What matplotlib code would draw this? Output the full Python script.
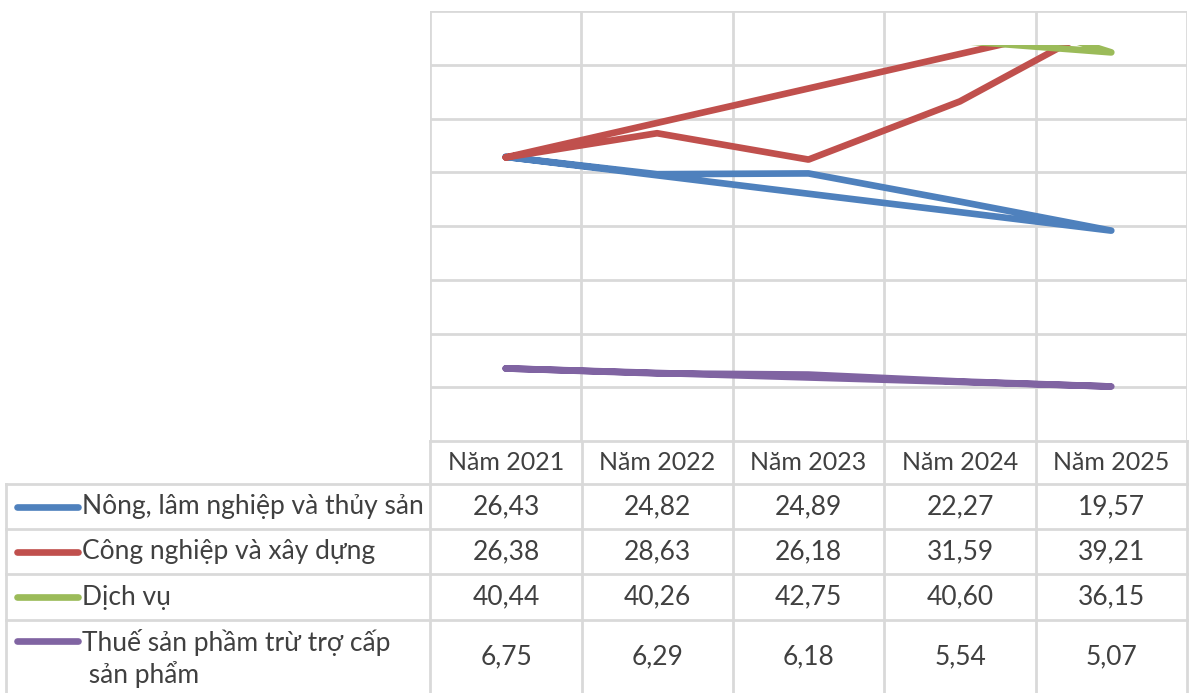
import matplotlib.pyplot as plt
from matplotlib.patches import Rectangle

years = ["Năm 2021", "Năm 2022", "Năm 2023", "Năm 2024", "Năm 2025"]
series_names = ["Nông, lâm nghiệp và thủy sản", "Công nghiệp và xây dựng", "Dịch vụ",
                "Thuế sản phầm trừ trợ cấp\n sản phẩm"]
nong_lam = [26.43, 24.82, 24.89, 22.27, 19.57]
cong_nghiep = [26.38, 28.63, 26.18, 31.59, 39.21]
dich_vu = [40.44, 40.26, 42.75, 40.60, 36.15]
thue = [6.75, 6.29, 6.18, 5.54, 5.07]
colors = ["#4F81BD", "#C0504D", "#9BBB59", "#8064A2"]

plt.rcParams['font.family'] = ['Lato', 'DejaVu Sans']
W, H = 1190, 693
fig = plt.figure(figsize=(W / 100, H / 100), dpi=100)
grid_c = "#D9D9D9"
text_c = "#404040"

# plot area in pixels
x0, x1, y_top, y_bot = 430, 1187, 11, 441
ax = fig.add_axes([x0 / W, 1 - y_bot / H, (x1 - x0) / W, (y_bot - y_top) / H])
ax.set_xlim(-0.5, 4.5)
ax.set_ylim(0, 40)
for v in range(0, 41, 5):
    ax.axhline(v, color=grid_c, lw=2, zorder=0)
for i in range(6):
    ax.axvline(i - 0.5, color=grid_c, lw=2, zorder=0)
for s in ax.spines.values():
    s.set_visible(False)
ax.set_xticks([])
ax.set_yticks([])

all_series = [nong_lam, cong_nghiep, dich_vu, thue]
clip = Rectangle((-0.5, 0), 5, 36.8, transform=ax.transData)
for vals, c in zip(all_series, colors):
    xs = list(range(len(vals))) + [0]
    ys = list(vals) + [vals[0]]
    ln, = ax.plot(xs, ys, color=c, lw=4.8, solid_capstyle='round',
                  solid_joinstyle='round', zorder=3)
    ln.set_clip_path(clip)

# data table in pixel coordinates
tab = fig.add_axes([0, 0, 1, 1], zorder=-1)
tab.set_xlim(0, W)
tab.set_ylim(H, 0)
tab.axis('off')
col_edges = [430, 582, 733, 884, 1036, 1187]
row_edges = [441, 484, 529, 574, 620, 693]
for y in row_edges[1:-1]:
    tab.plot([6, 1187], [y, y], color=grid_c, lw=2)
tab.plot([430, 1187], [441, 441], color=grid_c, lw=2)
tab.plot([6, 6], [484, 693], color=grid_c, lw=2)
for x in col_edges:
    tab.plot([x, x], [441, 693], color=grid_c, lw=2)

fs = 18
fs_cell = 19
for i, yr in enumerate(years):
    cx = (col_edges[i] + col_edges[i + 1]) / 2
    tab.text(cx, (row_edges[0] + row_edges[1]) / 2, yr, ha='center', va='center',
             fontsize=fs, color=text_c)

for r, (name, vals, c) in enumerate(zip(series_names, all_series, colors)):
    ytop, ybot = row_edges[r + 1], row_edges[r + 2]
    cy = (ytop + ybot) / 2
    ly = cy if r < 3 else 641
    tab.plot([17, 78], [ly, ly], color=c, lw=4.8, solid_capstyle='round')
    if r < 3:
        tab.text(82, cy, name, ha='left', va='center', fontsize=fs_cell, color=text_c)
    else:
        tab.text(82, cy + 2, name, ha='left', va='center', fontsize=fs_cell, color=text_c,
                 linespacing=1.25)
    for i, v in enumerate(vals):
        cx = (col_edges[i] + col_edges[i + 1]) / 2
        tab.text(cx, cy, f"{v:.2f}".replace(".", ","), ha='center', va='center',
                 fontsize=fs_cell, color=text_c)

fig.savefig("out.png", dpi=100)
